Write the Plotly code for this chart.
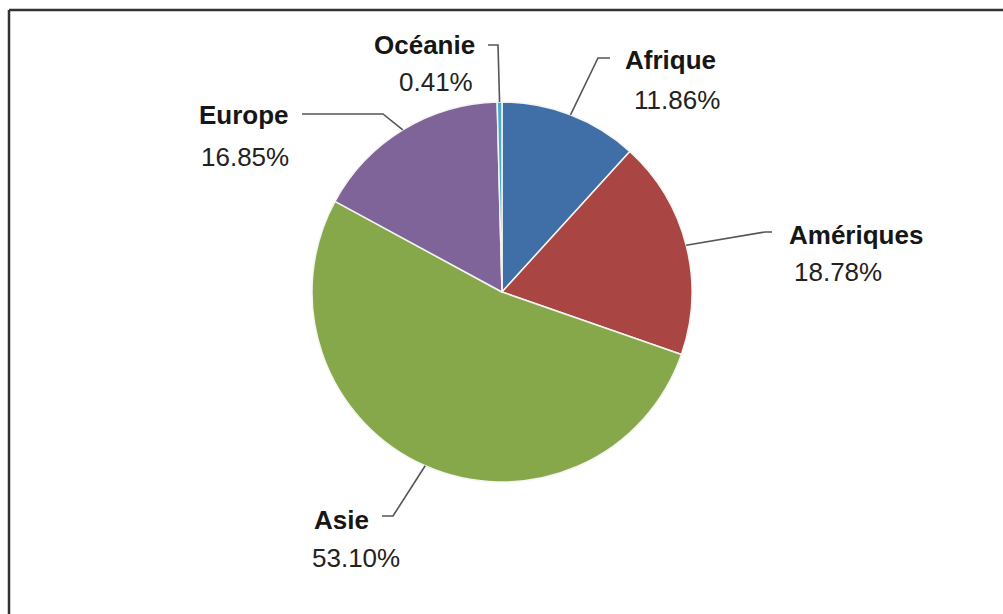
import math
import plotly.graph_objects as go

# Population share by continent (%)
regions = ["Afrique", "Amériques", "Asie", "Europe", "Océanie"]
shares = [11.86, 18.78, 53.10, 16.85, 0.41]
colors = ["#3F6FA6", "#A94643", "#86A84B", "#7E6499", "#4BACC6"]

W, H = 1003, 614
CX, CY, R = 502, 292, 190  # pie centre and radius in pixels

# label layout (centres): (name x, name y, pct x, pct y, elbow x, elbow y, end x)
label_pos = {
    "Afrique":   (670, 60, 677, 100, 598, 58, 610),
    "Amériques": (856, 235, 838, 272, 765, 232, 772),
    "Asie":      (341, 520, 356, 558, 393, 516, 382),
    "Europe":    (244, 115, 245, 157, 383, 114, 302),
    "Océanie":   (424, 45, 436, 82, 498, 45, 488),
}


def px(x, y):
    return x / W, 1 - y / H


fig = go.Figure(
    go.Pie(
        labels=regions,
        values=shares,
        sort=False,
        direction="clockwise",
        rotation=0,
        marker=dict(colors=colors, line=dict(color="#F4F4F0", width=1.5)),
        textinfo="none",
        hoverinfo="label+percent",
        showlegend=False,
        domain=dict(
            x=[(CX - R) / W, (CX + R) / W],
            y=[(H - CY - R) / H, (H - CY + R) / H],
        ),
    )
)

shapes = []
annotations = []
total = sum(shares)
cum = 0.0
for name, v in zip(regions, shares):
    mid = (cum + v / 2) / total * 2 * math.pi
    cum += v
    sx = CX + R * math.sin(mid)
    sy = CY - R * math.cos(mid)
    nx, ny, qx, qy, ex, ey, tx = label_pos[name]
    p0 = px(sx, sy)
    p1 = px(ex, ey)
    p2 = px(tx, ey)
    shapes.append(dict(
        type="path", xref="paper", yref="paper",
        path=f"M {p0[0]},{p0[1]} L {p1[0]},{p1[1]} L {p2[0]},{p2[1]}",
        line=dict(color="#555555", width=1.6),
    ))
    a = px(nx, ny)
    annotations.append(dict(
        x=a[0], y=a[1], xref="paper", yref="paper", xanchor="center", yanchor="middle",
        text=f"<b>{name}</b>", showarrow=False,
        font=dict(family="Liberation Sans, Arial", size=26, color="#161616"),
    ))
    b = px(qx, qy)
    annotations.append(dict(
        x=b[0], y=b[1], xref="paper", yref="paper", xanchor="center", yanchor="middle",
        text=f"{v:.2f}%", showarrow=False,
        font=dict(family="Liberation Sans, Arial", size=26, color="#222222"),
    ))

# frame lines along the top and left edges
fx0, fy0 = px(9, 10)
shapes.append(dict(type="line", xref="paper", yref="paper",
                   x0=fx0, y0=fy0, x1=1, y1=fy0, line=dict(color="#333333", width=2.5)))
shapes.append(dict(type="line", xref="paper", yref="paper",
                   x0=fx0, y0=fy0, x1=fx0, y1=0, line=dict(color="#333333", width=2.5)))

fig.update_layout(
    width=W, height=H,
    margin=dict(l=0, r=0, t=0, b=0),
    paper_bgcolor="#FFFFFF",
    plot_bgcolor="#FFFFFF",
    shapes=shapes,
    annotations=annotations,
)

fig.write_html("out.html")
